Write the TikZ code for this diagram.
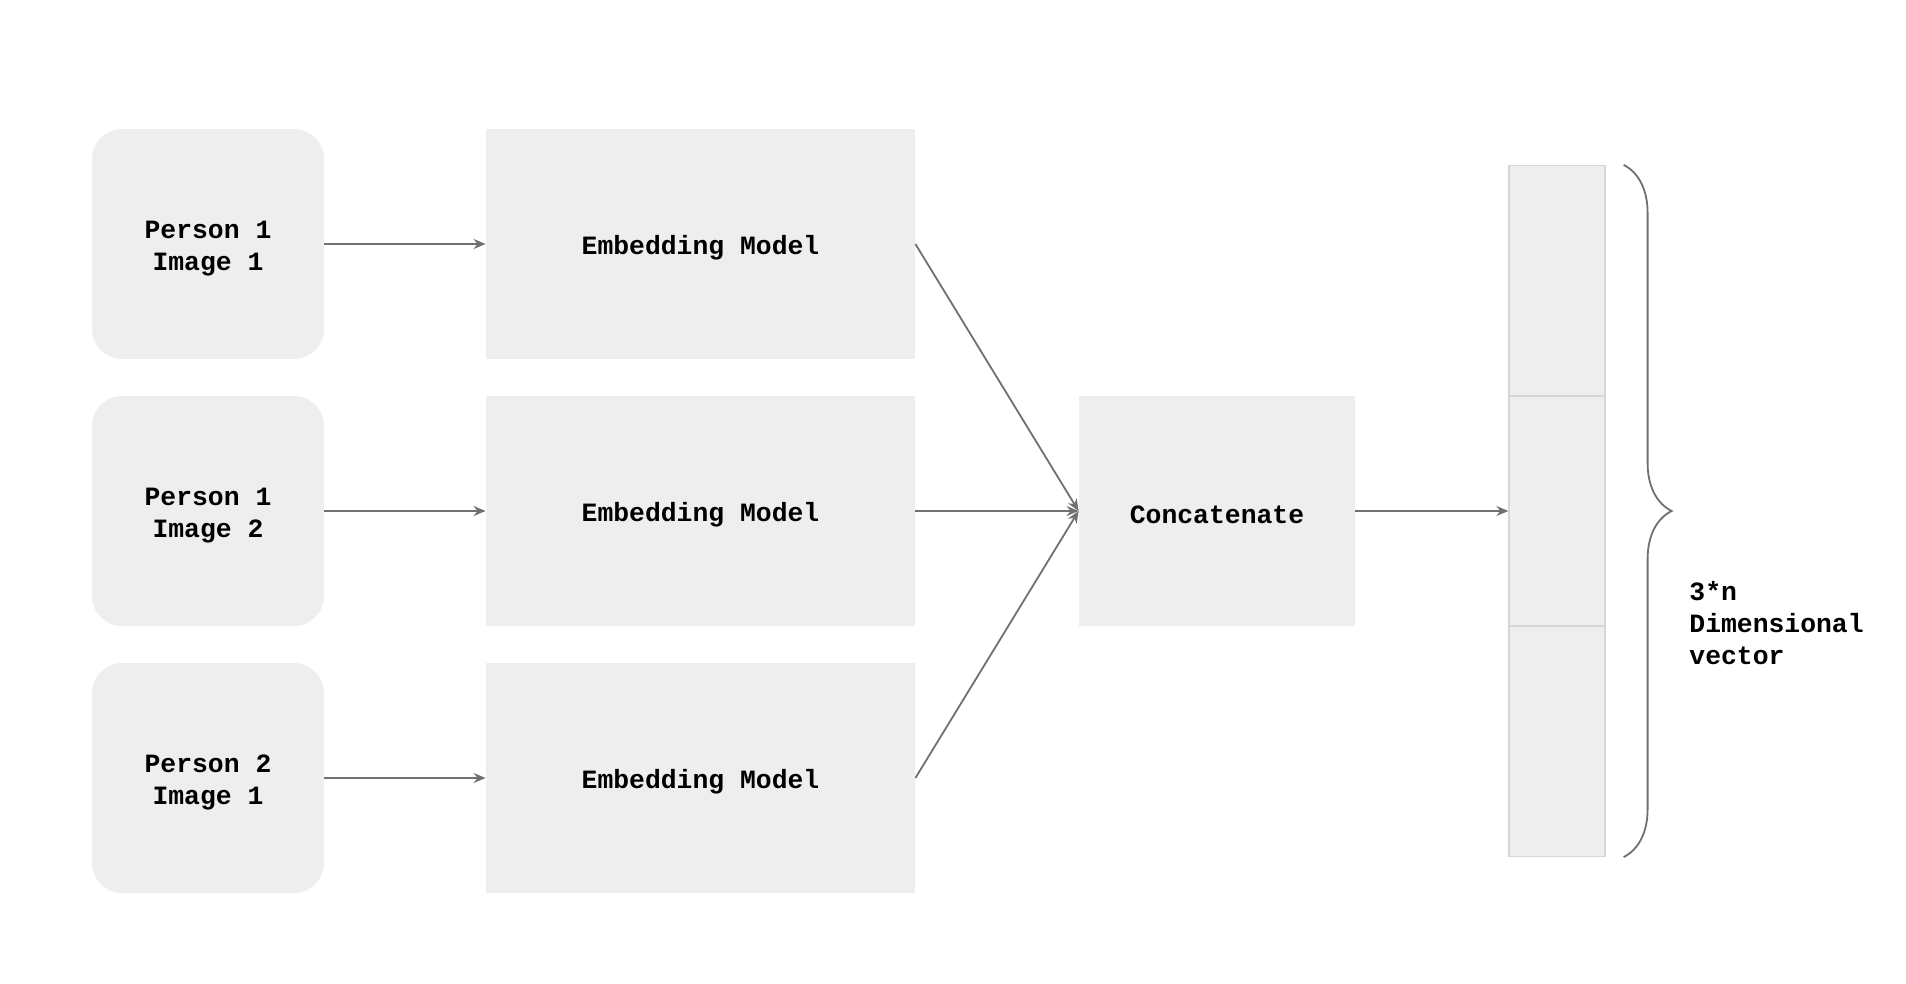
\documentclass[tikz,border=0pt]{standalone}
\usepackage{fontspec}
\setmonofont{Liberation Mono}
\usetikzlibrary{arrows.meta,decorations.pathreplacing}

\definecolor{boxgray}{HTML}{EEEEEE}
\definecolor{cellline}{HTML}{D6D6D6}
\definecolor{linegray}{HTML}{707070}

\begin{document}
\begin{tikzpicture}[x=0.5pt, y=-0.5pt,
		every node/.style={font=\ttfamily\bfseries\fontsize{13.2}{16}\selectfont, align=center},
		inbox/.style={fill=boxgray, minimum width=116pt, minimum height=115pt, rounded corners=15pt, text height=29.4pt, text depth=3pt},
		modelbox/.style={fill=boxgray, minimum width=214.5pt, minimum height=115pt, text height=13.6pt, text depth=3pt},
		cell/.style={fill=boxgray, draw=cellline, line width=0.6pt, minimum width=48pt, minimum height=115pt, inner sep=0pt},
		flow/.style={-{Stealth[length=6pt,width=5pt]}, line width=0.9pt, color=linegray}]
		\useasboundingbox (0,0) rectangle (1906,984);
		\draw
		node[inbox] (p1_img1) at (208, 244){Person 1\\Image 1}
		node[inbox] (p1_img2) at (208, 511){Person 1\\Image 2}
		node[inbox] (p2_img1) at (208, 778){Person 2\\Image 1}
		node[modelbox] (embed_1) at (700.5, 244){Embedding Model}
		node[modelbox] (embed_2) at (700.5, 511){Embedding Model}
		node[modelbox] (embed_3) at (700.5, 778){Embedding Model}
		node[fill=boxgray, minimum width=138pt, minimum height=115pt, text height=12.9pt, text depth=0pt] (concat) at (1217, 511){Concatenate}
		node[cell] (vec_1) at (1557, 280.5){}
		node[cell] (vec_2) at (1557, 511){}
		node[cell] (vec_3) at (1557, 741.5){};
		\draw [flow] (p1_img1) -- (embed_1);
		\draw [flow] (p1_img2) -- (embed_2);
		\draw [flow] (p2_img1) -- (embed_3);
			\draw [flow] (embed_1.east) -- (concat.west);
			\draw [flow] (embed_2.east) -- (concat.west);
			\draw [flow] (embed_3.east) -- (concat.west);
		\draw [flow] (concat) -- (vec_2);
		\draw [decorate, decoration={brace, amplitude=24pt}, line width=0.9pt, color=linegray]
			([xshift=9pt]vec_1.north east) -- ([xshift=9pt]vec_3.south east);
		\node[anchor=west, align=left, inner sep=0pt] (dim_label) at (1689, 623) {3*n\\Dimensional\\vector};
		\end{tikzpicture}
\end{document}
